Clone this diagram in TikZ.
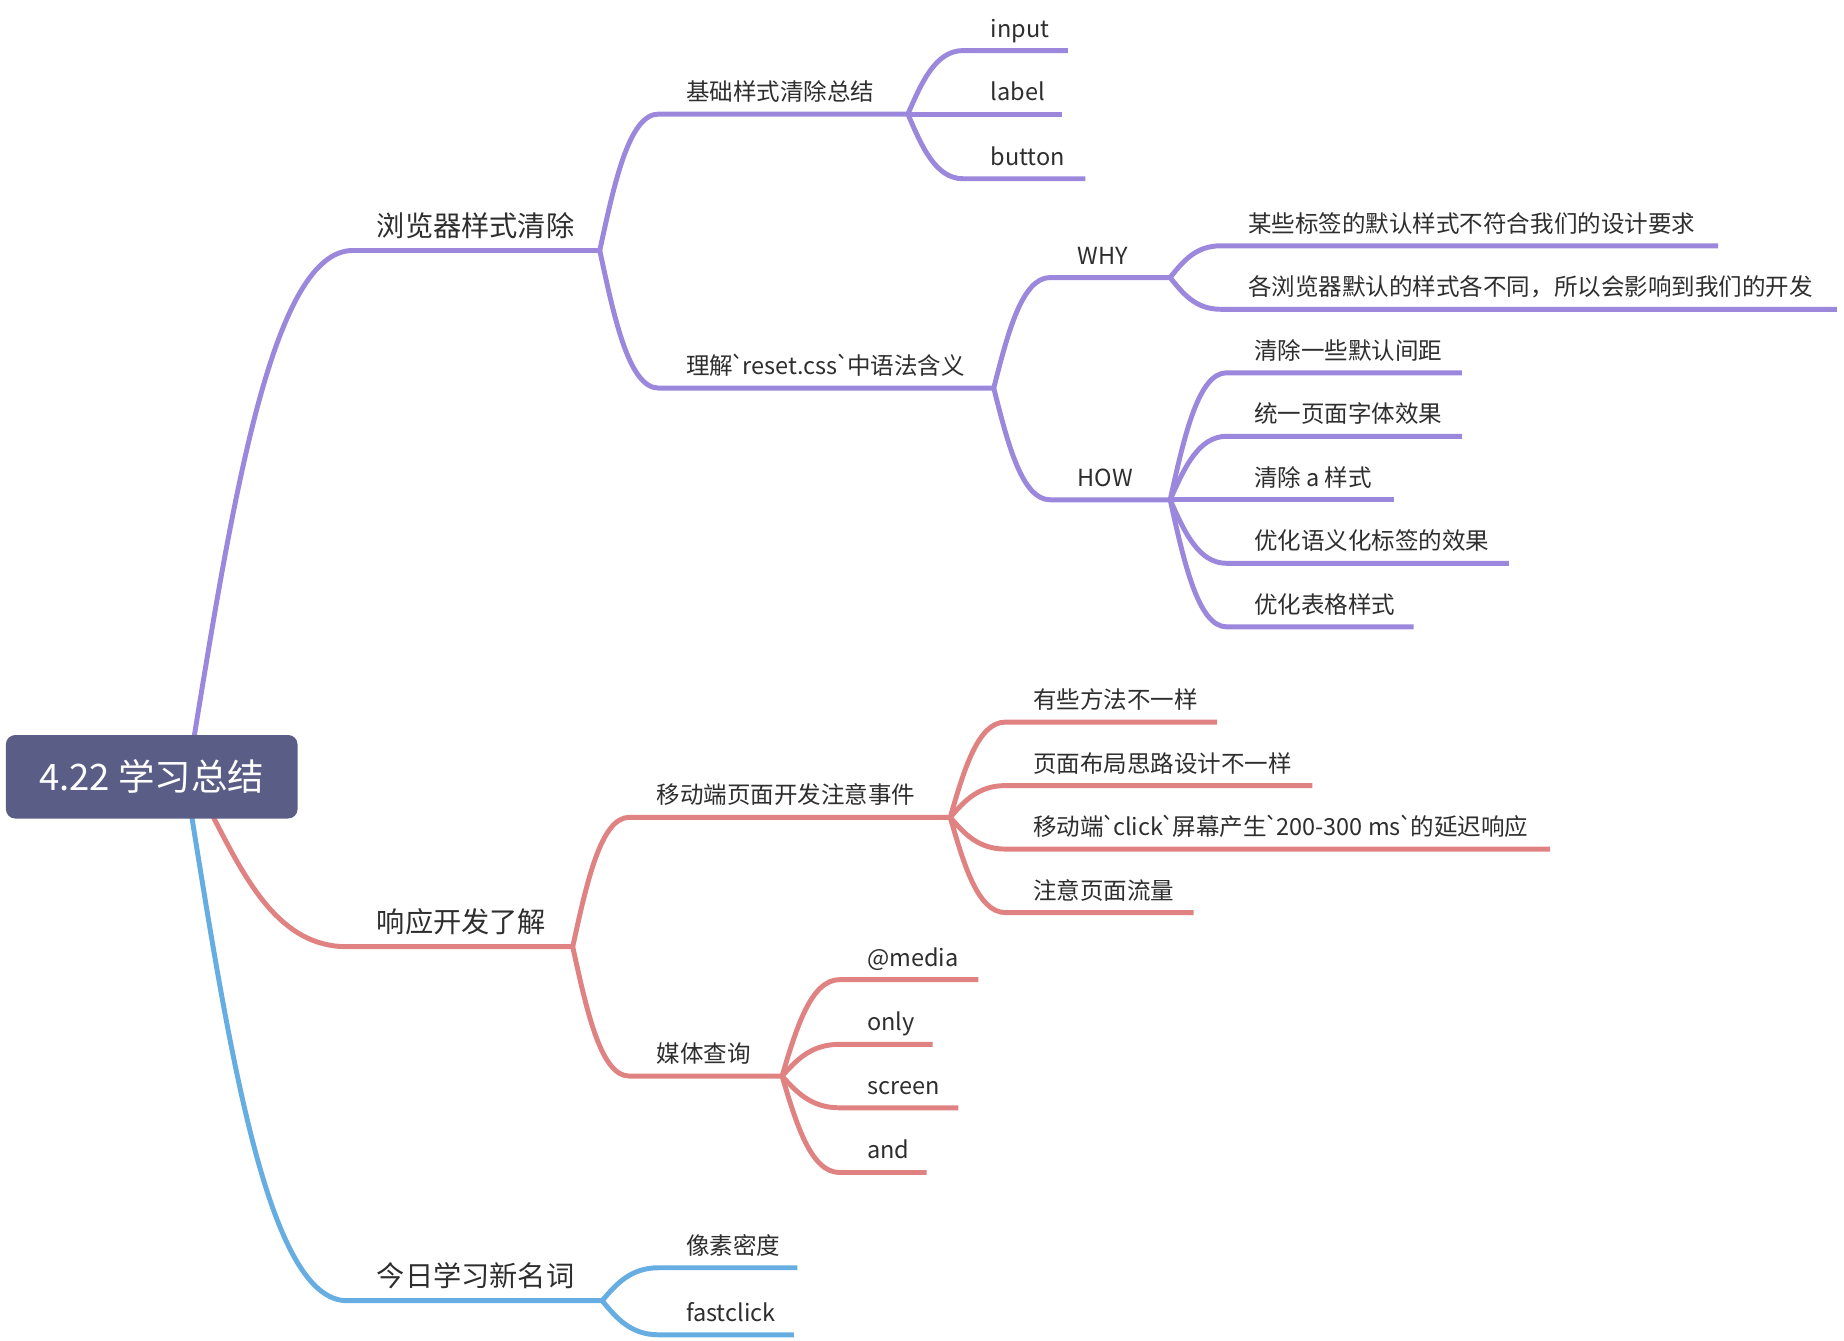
\documentclass[tikz,border=0pt]{standalone}
\usepackage{fontspec}
\setmainfont{Noto Sans CJK SC}[Ligatures=TeXOff]
\usetikzlibrary{calc}
\definecolor{pc}{HTML}{9B87DC}
\definecolor{rc}{HTML}{E08282}
\definecolor{bc}{HTML}{66AEE2}
\definecolor{rootc}{HTML}{5A5E86}
\definecolor{txtc}{HTML}{2E2E2E}
\newcommand\bq{\kern-0.1em`\kern-0.1em}
\tikzset{
  conn/.style={line width=2.1pt, line cap=butt, line join=round},
  tone/.style={anchor=base west, inner sep=0pt, text=txtc, font=\fontsize{12}{14}\selectfont},
  ttwo/.style={anchor=base west, inner sep=0pt, text=txtc, font=\fontsize{10}{12}\selectfont},
  rootbox/.style={fill=rootc, rounded corners=4pt, minimum width=124pt, minimum height=35.5pt, inner sep=0pt, text=white, font=\fontsize{15.5}{18}\selectfont}
}
% #1 name, #2 parent, #3 xs, #4 y, #5 xe, #6 colour, #7 text style, #8 offset, #9 text
\newcommand\mmtopic[9]{%
  \coordinate (#1s) at (#3,-#4);
  \coordinate (#1) at (#5,-#4);
  \draw[conn,#6] let \p1=(#2), \p2=(#1s) in (#2) .. controls ({\x1+0.25*(\x2-\x1)},{\y1+0.5*(\y2-\y1)}) and ({\x2-0.5*(\x2-\x1)},\y2) .. (#1s) -- (#1);
  \node[#7] (#1t) at ($(#1s)+(#8)$) {#9};
}
\begin{document}
\begin{tikzpicture}[x=0.5pt,y=0.5pt]
\useasboundingbox (0,0) rectangle (1568,-1139.5);
\coordinate (rp) at (165,-627);
\coordinate (rr) at (181,-694);
\coordinate (rb) at (163,-694);
% purple
\mmtopic{p1}{rp}{300}{213}{510}{pc}{tone}{20,12}{浏览器样式清除}
\mmtopic{p2a}{p1}{560}{97}{772}{pc}{ttwo}{23,11.5}{基础样式清除总结}
\mmtopic{p3a}{p2a}{819}{43}{908}{pc}{ttwo}{23,11.5}{input}
\mmtopic{p3b}{p2a}{819}{97}{903}{pc}{ttwo}{23,11.5}{label}
\mmtopic{p3c}{p2a}{819}{152}{923}{pc}{ttwo}{23,11.5}{button}
\mmtopic{p2b}{p1}{560}{330}{845}{pc}{ttwo}{23,11.5}{理解\bq reset.css\bq 中语法含义}
\mmtopic{why}{p2b}{893}{236}{995}{pc}{ttwo}{23,11.5}{WHY}
\mmtopic{how}{p2b}{893}{425}{995}{pc}{ttwo}{23,11.5}{HOW}
\mmtopic{w1}{why}{1038}{209}{1461}{pc}{ttwo}{23,11.5}{某些标签的默认样式不符合我们的设计要求}
\mmtopic{w2}{why}{1038}{263}{1562}{pc}{ttwo}{23,11.5}{各浏览器默认的样式各不同，所以会影响到我们的开发}
\mmtopic{h1}{how}{1043}{317}{1243}{pc}{ttwo}{23,11.5}{清除一些默认间距}
\mmtopic{h2}{how}{1043}{371}{1243}{pc}{ttwo}{23,11.5}{统一页面字体效果}
\mmtopic{h3}{how}{1043}{425}{1185}{pc}{ttwo}{23,11.5}{清除 a 样式}
\mmtopic{h4}{how}{1043}{479}{1283}{pc}{ttwo}{23,11.5}{优化语义化标签的效果}
\mmtopic{h5}{how}{1043}{533}{1202}{pc}{ttwo}{23,11.5}{优化表格样式}
% red
\mmtopic{r1}{rr}{295}{805}{487}{rc}{tone}{25,12}{响应开发了解}
\mmtopic{r2a}{r1}{535}{695}{808}{rc}{ttwo}{23,11.5}{移动端页面开发注意事件}
\mmtopic{r2b}{r1}{535}{915}{665}{rc}{ttwo}{23,11.5}{媒体查询}
\mmtopic{m1}{r2a}{855}{614}{1035}{rc}{ttwo}{23,11.5}{有些方法不一样}
\mmtopic{m2}{r2a}{855}{668}{1116}{rc}{ttwo}{23,11.5}{页面布局思路设计不一样}
\mmtopic{m3}{r2a}{855}{722}{1318}{rc}{ttwo}{23,11.5}{移动端\bq click\bq 屏幕产生\bq 200-300 ms\bq 的延迟响应}
\mmtopic{m4}{r2a}{855}{776}{1015}{rc}{ttwo}{23,11.5}{注意页面流量}
\mmtopic{q1}{r2b}{714}{833}{832}{rc}{ttwo}{23,11.5}{@media}
\mmtopic{q2}{r2b}{714}{888}{793}{rc}{ttwo}{23,11.5}{only}
\mmtopic{q3}{r2b}{714}{942}{815}{rc}{ttwo}{23,11.5}{screen}
\mmtopic{q4}{r2b}{714}{997}{788}{rc}{ttwo}{23,11.5}{and}
% blue
\mmtopic{b1}{rb}{295}{1106}{512}{bc}{tone}{25,12}{今日学习新名词}
\mmtopic{b2a}{b1}{560}{1078}{678}{bc}{ttwo}{23,11.5}{像素密度}
\mmtopic{b2b}{b1}{560}{1135}{675}{bc}{ttwo}{23,11.5}{fastclick}
% root
\node[rootbox] (root) at (129,-660.5) {4.22 学习总结};
\end{tikzpicture}
\end{document}
